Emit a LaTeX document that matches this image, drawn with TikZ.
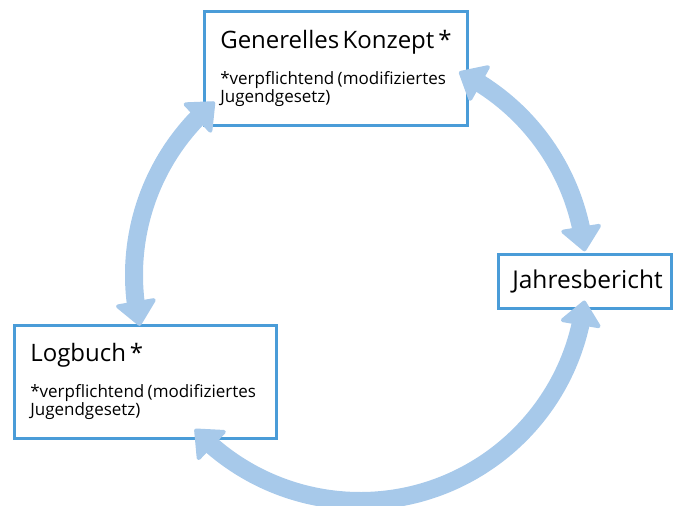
\documentclass[tikz,border=0pt]{standalone}
\usepackage{fontspec}
\setmainfont{Open Sans}
\usetikzlibrary{arrows.meta,bending}

\definecolor{boxblue}{RGB}{74,156,216}
\definecolor{arcblue}{RGB}{167,201,234}

\begin{document}
\begin{tikzpicture}[
    x=1pt, y=1pt,
    % Style for the outlined text boxes
    box/.style={draw=boxblue, line width=2.6pt, fill=white, align=left,
        inner xsep=16pt, inner ysep=0pt, anchor=north west},
    % Style for the thick cycle arrows
    cycle arrow/.style={arcblue, line width=18pt,
        {Triangle[width=44pt,length=26pt,round,line width=4pt]}-{Triangle[width=44pt,length=26pt,round,line width=4pt]}}
]
    \useasboundingbox (0,0) rectangle (673,506);

    % --- 1. Define Boxes ---
    \node[box, text width=231pt, minimum height=114pt] (konzept) at (203,496)
        {\mbox{\fontsize{24}{28}\selectfont Generelles Konzept\,*}\\[17pt]
         \fontsize{17}{19}\selectfont *verpflichtend (modifiziertes\\Jugendgesetz)};
    \node[box, text width=230pt, minimum height=113pt] (logbuch) at (13,182)
        {\mbox{\fontsize{24}{28}\selectfont Logbuch\,*}\\[17pt]
         \fontsize{17}{19}\selectfont *verpflichtend (modifiziertes\\Jugendgesetz)};
    \node[box, text width=145pt, minimum height=54pt, inner xsep=14pt] (bericht) at (497,253)
        {\fontsize{24.5}{28}\selectfont Jahresbericht};

    % --- 2. Define Coordinates on the Circle ---
    \def\rad{226}
    \coordinate (mid) at (360,231);
    \coordinate (k-left) at ([shift={(130:\rad)}]mid);
    \coordinate (k-right) at ([shift={(64:\rad)}]mid);
    \coordinate (b-right) at ([shift={(-6.5:\rad)}]mid);

    % --- 3. Draw Arrows ---
    \draw[cycle arrow] (k-left) arc[start angle=130, end angle=193, radius=\rad];
    \draw[cycle arrow] (k-right) arc[start angle=64, end angle=6, radius=\rad];
    \draw[cycle arrow] (b-right) arc[start angle=-6.5, end angle=-137, radius=\rad];

\end{tikzpicture}
\end{document}
